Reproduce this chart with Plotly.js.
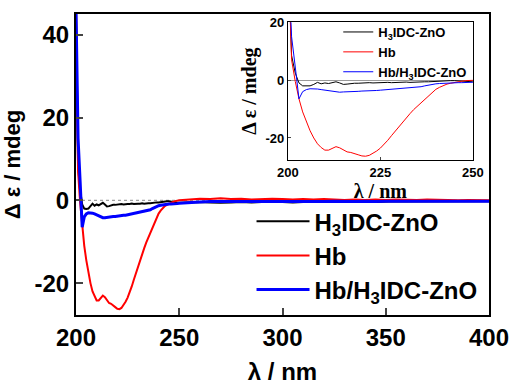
<!DOCTYPE html>
<html>
<head>
<meta charset="utf-8">
<script src="https://cdn.plot.ly/plotly-3.0.1.min.js"></script>
<style>html,body{margin:0;padding:0;background:#fff;}#chart{width:511px;height:385px;}</style>
</head>
<body>
<div id="chart"></div>
<script>
const wavelength = [
  200,201,202,203,204,205,206,207,208,209,210,211,212,213,214,215,216,217,218,219,
  220,221,222,223,224,225,226,227,228,229,230,231,232,233,234,235,236,237,238,239,
  240,241,242,243,244,245,246,247,248,249,250,
  255,260,265,270,275,280,285,290,295,300,305,310,315,320,325,330,335,340,345,350,
  355,360,365,370,375,380,385,390,395,400
];
const h3idcZnO = [
  46,8.5,2.4,-1,-2,-2.1,-2,-1.5,-0.8,-1.3,-1,-1.2,-0.8,-0.6,-1,-1.5,-1.4,-1.2,-1.1,-1.1,
  -1,-1,-0.9,-1,-0.9,-0.9,-0.9,-0.8,-0.9,-0.8,-0.8,-0.8,-0.7,-0.8,-0.7,-0.7,-0.7,-0.6,-0.6,-0.5,
  -0.5,-0.4,-0.4,-0.3,-0.2,-0.2,-0.3,-0.5,-0.5,-0.6,-0.6,
  -0.5,-0.4,-0.5,-0.6,-0.5,-0.4,-0.5,-0.4,-0.3,-0.4,-0.5,-0.4,-0.3,-0.4,-0.3,-0.4,-0.3,-0.3,-0.4,-0.3,
  -0.2,-0.3,-0.3,-0.2,-0.3,-0.2,-0.2,-0.3,-0.2,-0.2
];
const hb = [
  46,7,-0.5,-6.5,-11,-14.5,-17.5,-20,-22,-23.3,-24.2,-24.2,-23.5,-23,-23.4,-24.2,-24.8,-25,-25.3,-25.8,
  -26.2,-26.3,-26,-25.3,-24.5,-23.5,-22.3,-20.8,-19.2,-17.6,-16,-14.5,-13,-11.6,-10.2,-9,-7.7,-6.5,-5.3,-4.2,
  -3.2,-2.5,-1.9,-1.4,-1.1,-0.8,-0.6,-0.4,-0.2,-0.1,0,
  0.2,0.4,0.3,0.5,0.3,0.4,0.2,0.3,0.4,0.3,0.2,0.3,0.2,0.3,0.2,0.1,0.2,0.1,0.2,0.1,
  0.2,0.1,0.1,0.2,0.1,0.1,0.0,0.1,0.1,0.0
];
const hbH3idcZnO = [
  46,15,4.5,-6.5,-4,-3.3,-3,-3,-3.1,-3.3,-3.5,-3.8,-4,-4.2,-4.2,-4.1,-4.1,-4,-3.9,-3.9,
  -3.8,-3.8,-3.7,-3.6,-3.6,-3.5,-3.4,-3.3,-3.2,-3.1,-3,-2.9,-2.8,-2.7,-2.6,-2.5,-2.3,-2,-1.7,-1.4,
  -1.3,-1.2,-1.1,-1,-1,-0.9,-0.9,-0.9,-0.8,-0.8,-0.7,
  -0.5,-0.4,-0.3,-0.3,-0.4,-0.3,-0.3,-0.4,-0.3,-0.3,-0.3,-0.4,-0.3,-0.3,-0.2,-0.3,-0.3,-0.2,-0.3,-0.2,
  -0.2,-0.3,-0.2,-0.2,-0.2,-0.3,-0.2,-0.2,-0.2,-0.2
];
const seriesNames = ['H<sub>3</sub>IDC-ZnO', 'Hb', 'Hb/H<sub>3</sub>IDC-ZnO'];
const mainXTicks = [200, 250, 300, 350, 400];
const mainYTicks = [-20, 0, 20, 40];
const mainYLabels = ['-20', '0', '20', '40'];
const insetXTicks = [200, 225, 250];
const insetYTicks = [-20, 0, 20];
const insetYLabels = ['-20', '0', '20'];

const colors = ['#000000', '#ff0000', '#0000ff'];
const mainWidths = [2, 2, 3];
const values = [h3idcZnO, hb, hbH3idcZnO];
const SANS = 'Liberation Sans, Arial, sans-serif';
const SERIF = 'Liberation Serif, Times New Roman, serif';

const traces = [];
values.forEach((v, i) => {
  traces.push({x: wavelength, y: v, type: 'scatter', mode: 'lines', name: seriesNames[i],
    line: {color: colors[i], width: mainWidths[i]}, xaxis: 'x', yaxis: 'y', legend: 'legend'});
});
values.forEach((v, i) => {
  traces.push({x: wavelength, y: v, type: 'scatter', mode: 'lines', name: seriesNames[i],
    line: {color: colors[i], width: 1}, xaxis: 'x2', yaxis: 'y2', legend: 'legend2'});
});

const layout = {
  width: 511, height: 385,
  margin: {l: 76, r: 22, t: 14, b: 70},
  paper_bgcolor: '#fff', plot_bgcolor: '#fff',
  font: {family: SANS, color: '#000'},
  xaxis: {range: [200, 400], tickvals: mainXTicks, ticks: 'inside', ticklen: 7, tickwidth: 2,
    showline: true, linewidth: 2, linecolor: '#000', mirror: true, showgrid: false, zeroline: false,
    tickfont: {size: 24, weight: 'bold'},
    title: {text: 'λ / nm', font: {size: 24, weight: 'bold'}, standoff: 16}},
  yaxis: {range: [-27.7, 45], tickvals: mainYTicks, ticktext: mainYLabels, ticks: 'inside', ticklen: 7, tickwidth: 2,
    showline: true, linewidth: 2, linecolor: '#000', mirror: true, showgrid: false, zeroline: false,
    tickfont: {size: 24, weight: 'bold'},
    title: {text: 'Δ ε / mdeg', font: {size: 22, weight: 'bold'}, standoff: 10}},
  xaxis2: {domain: [0.513, 0.961], anchor: 'y2', range: [200, 250], tickvals: insetXTicks,
    ticks: 'inside', ticklen: 3, tickwidth: 1, showline: true, linewidth: 1, linecolor: '#000', mirror: true,
    showgrid: false, zeroline: false, tickfont: {size: 13, weight: 'bold'},
    title: {text: 'λ / nm', font: {family: SERIF, size: 20, weight: 'bold'}, standoff: 0}},
  yaxis2: {domain: [0.515, 0.973], anchor: 'x2', range: [-27.6, 20], tickvals: insetYTicks, ticktext: insetYLabels,
    ticks: 'inside', ticklen: 3, tickwidth: 1, showline: true, linewidth: 1, linecolor: '#000', mirror: true,
    showgrid: false, zeroline: true, zerolinecolor: '#999', zerolinewidth: 1,
    tickfont: {size: 13, weight: 'bold'},
    title: {text: 'Δ ε / mdeg', font: {family: SERIF, size: 20, weight: 'bold'}, standoff: 3}},
  legend: {x: 0.425, y: 0.385, xanchor: 'left', yanchor: 'top', bgcolor: 'rgba(0,0,0,0)',
    font: {size: 24, weight: 'bold'}, itemwidth: 53, tracegroupgap: 0},
  legend2: {x: 0.635, y: 0.99, xanchor: 'left', yanchor: 'top', bgcolor: 'rgba(0,0,0,0)',
    font: {size: 13, weight: 'bold'}, itemwidth: 30, tracegroupgap: 0},
  shapes: [{type: 'line', xref: 'x', yref: 'y', x0: 200, x1: 400, y0: 0, y1: 0, layer: 'below',
    line: {color: '#888', width: 1, dash: 'dot'}}],
  showlegend: true
};

Plotly.newPlot('chart', traces, layout, {displayModeBar: false, staticPlot: true});
</script>
</body>
</html>
